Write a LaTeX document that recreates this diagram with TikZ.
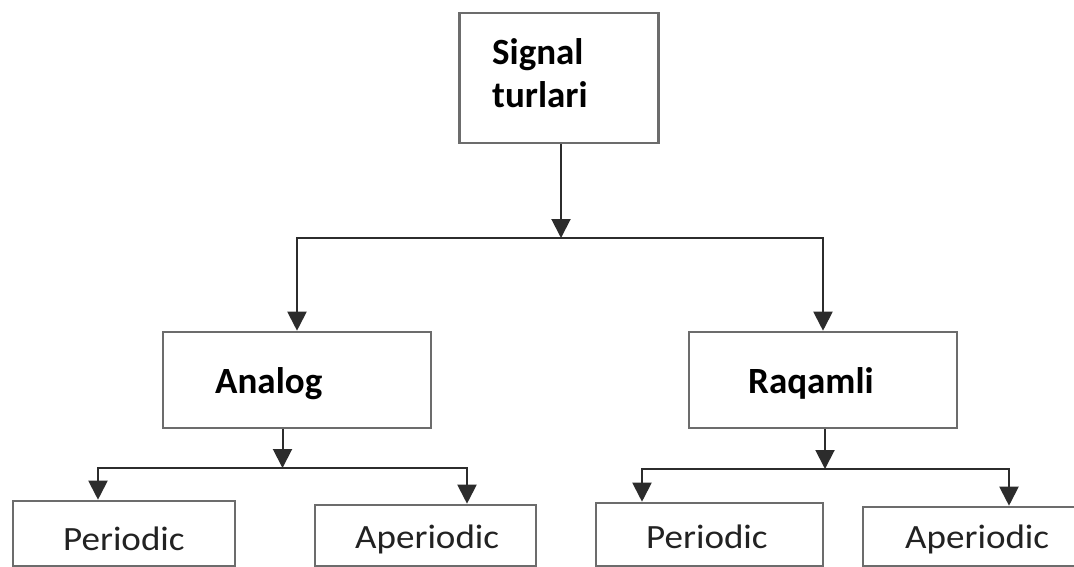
\documentclass[tikz,border=0pt]{standalone}
\usepackage{fontspec}
\setmainfont{Carlito}
\newfontfamily\regfont[FakeStretch=1.09]{Carlito}
\usetikzlibrary{arrows.meta}
\definecolor{boxgray}{HTML}{6C6C6C}
\definecolor{linegray}{HTML}{2C2C2C}
\definecolor{txtgray}{HTML}{222222}
\begin{document}
\begin{tikzpicture}[x=1pt,y=-1pt,
  box/.style={draw=boxgray, line width=2.6pt, fill=white, inner sep=0pt, rectangle},
  conn/.style={draw=linegray, line width=2pt, -{Triangle[width=19pt,length=19pt]}},
  boldtxt/.style={font=\fontsize{37}{43}\selectfont\bfseries, inner sep=0pt, anchor=base west, text=black},
  regtxt/.style={font=\regfont\fontsize{34}{40}\selectfont, inner sep=0pt, anchor=base west, text=txtgray}]
\useasboundingbox (0,0) rectangle (1074,567);
\fill[white] (0,0) rectangle (1074,567);
\clip (0,0) rectangle (1074,567);
% boxes
\node[box, minimum width=199pt, minimum height=130pt] (top) at (559,78) {};
\node[box, minimum width=268pt, minimum height=96pt] (analog) at (297,380) {};
\node[box, minimum width=268pt, minimum height=96pt] (raqamli) at (823,380) {};
\node[box, minimum width=222pt, minimum height=65pt] (p1) at (124,533.5) {};
\node[box, minimum width=221pt, minimum height=61pt] (a1) at (425.5,535.5) {};
\node[box, minimum width=227pt, minimum height=63pt] (p2) at (709.5,534.5) {};
\node[box, minimum width=222pt, minimum height=59pt] (a2) at (974,536.5) {};
% texts
\node[boldtxt, align=left] (ttop) at (492,108) {Signal\\turlari};
\node[boldtxt] (tanalog) at (215,393) {Analog};
\node[boldtxt] (traqamli) at (748,393) {Raqamli};
\node[regtxt] (tp1) at (63,550) {Periodic};
\node[regtxt] (ta1) at (355,548) {Aperiodic};
\node[regtxt] (tp2) at (646,548) {Periodic};
\node[regtxt] (ta2) at (905,548) {Aperiodic};
% junctions
\coordinate (j1) at (561,238);
\coordinate (j2) at (282.5,468);
\coordinate (j3) at (825,469);
% connectors
\draw[conn] (top.south -| j1) -- (j1);
\draw[conn] (j1) -| (analog.north);
\draw[conn] (j1) -| (raqamli.north);
\draw[conn] (analog.south -| j2) -- (j2);
\draw[conn] (j2) -| ([xshift=-26pt]p1.north);
\draw[conn] (j2) -| ([xshift=41.5pt]a1.north);
\draw[conn] (raqamli.south -| j3) -- (j3);
\draw[conn] (j3) -| ([xshift=-67.5pt]p2.north);
\draw[conn] (j3) -| ([xshift=35pt]a2.north);
\end{tikzpicture}
\end{document}
